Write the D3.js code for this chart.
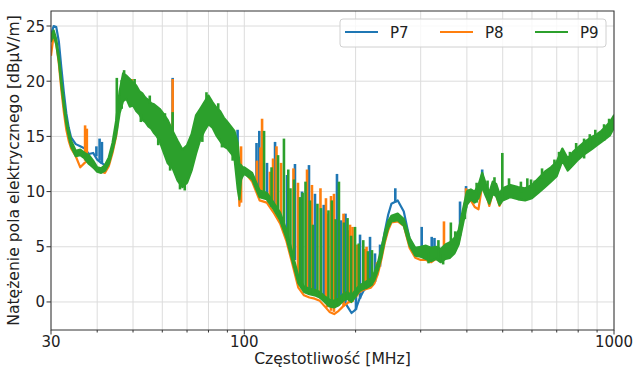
<!DOCTYPE html>
<html>
<head>
<meta charset="utf-8">
<script src="https://cdn.jsdelivr.net/npm/d3@7"></script>
<style>
  body { margin: 0; background: #fff; }
  text { font-family: "DejaVu Sans", sans-serif; fill: #222; }
</style>
</head>
<body>
<svg id="chart" width="636" height="368"></svg>
<script>
// Frequency grid [MHz] shared by all series
const freq = [
  30, 30.5, 31, 31.5, 32, 32.5, 33, 33.5, 34, 35, 36, 37, 38, 39, 40, 41, 42, 43, 44, 45,
  46, 47, 48, 49, 50, 51, 52, 53, 54, 55, 56, 57, 58, 59, 60,
  62, 64, 66, 68, 70, 72, 74, 76, 78, 80, 82, 84, 86, 88, 90, 92, 94,
  96, 97, 98, 99, 100,
  105, 110, 115, 120, 125, 130, 135, 140, 145, 150, 155, 160, 165, 170, 175, 180, 185, 190, 195, 200,
  205, 210, 215, 220, 225, 230, 235, 240, 245, 250, 260, 270, 280, 290, 300,
  310, 320, 330, 340, 350, 360, 370, 380, 390, 400, 410, 420, 430, 440, 450, 460, 470, 480, 490, 500,
  525, 550, 575, 600, 625, 650, 675, 700, 725, 750, 775, 800, 825, 850, 875, 900, 925, 950, 975, 1000
];

// P7 [dBµV/m]
const p7 = [
  24.2, 25.0, 24.9, 23.6, 21.2, 19.0, 17.1, 15.8, 14.9, 14.3, 14.1, 13.9, 13.4, 13.5, 12.9, 12.6, 12.4, 12.9, 14.0, 15.6,
  18.0, 19.4, 19.5, 19.0, 18.8, 18.4, 18.0, 17.6, 17.4, 17.1, 16.9, 16.5, 16.2, 15.9, 15.5,
  14.7, 14.0, 13.1, 12.2, 12.6, 13.8, 15.4, 16.1, 16.8, 17.4, 17.0, 16.4, 16.0, 15.4, 15.1, 14.7, 14.3,
  13.0, 11.0, 11.8, 11.9, 12.0,
  11.4, 9.8, 9.6, 8.7, 7.7, 6.1, 4.0, 1.9, 1.1, 0.9, 0.8, 0.6, 0.3, -0.2, -0.3, -0.1, 0.3, -0.4, -1.0, -0.7,
  0.3, 1.0, 1.4, 1.6, 2.1, 3.2, 4.8, 6.4, 7.9, 8.9, 9.2, 8.2, 5.7, 4.7, 4.8,
  4.8, 4.5, 4.6, 4.4, 4.6, 4.8, 5.3, 6.0, 7.9, 9.6, 9.8, 9.6, 10.2, 11.6, 10.3, 9.5, 10.4, 10.2, 9.3, 9.8,
  10.1, 9.9, 9.8, 10.0, 10.6, 11.1, 11.6, 12.1, 13.3, 12.5, 13.0, 13.4, 13.9, 14.1, 14.4, 14.7, 15.0, 15.3, 15.7, 16.3
];

// P8 [dBµV/m]
const p8 = [
  22.3, 24.2, 23.4, 21.6, 19.2, 17.2, 15.6, 14.6, 13.9, 13.2, 12.2, 12.6, 12.9, 12.2, 12.0, 11.8, 11.7, 12.3, 13.5, 15.0,
  17.8, 19.3, 19.4, 19.2, 18.7, 18.3, 17.9, 17.5, 17.3, 17.0, 16.8, 16.4, 16.1, 15.8, 15.4,
  14.6, 13.9, 13.0, 12.1, 12.5, 13.7, 15.3, 16.0, 16.7, 17.3, 16.9, 16.3, 15.9, 15.3, 15.0, 14.6, 14.2,
  12.5, 8.7, 11.2, 11.6, 11.8,
  10.9, 9.2, 9.0, 8.1, 7.1, 5.5, 3.4, 1.3, 0.6, 0.4, 0.3, 0.1, -0.4, -0.9, -1.1, -0.8, -0.4, -0.1, 0.1, 0.5,
  0.9, 1.1, 1.2, 1.3, 1.7, 2.6, 3.9, 5.4, 6.5, 7.2, 7.3, 6.9, 4.9, 4.0, 3.8,
  3.8, 3.6, 3.9, 3.7, 4.2, 4.4, 4.7, 5.4, 7.3, 9.0, 9.2, 8.6, 8.4, 10.6, 9.9, 8.7, 9.9, 9.7, 8.7, 9.4,
  9.6, 9.4, 9.3, 9.5, 10.1, 10.6, 11.1, 11.6, 12.9, 12.1, 12.6, 13.1, 13.5, 13.8, 14.1, 14.4, 14.7, 15.0, 15.4, 16.0
];

// P9: lower and upper edge of the noisy trace [dBµV/m]
const p9Lo = [
  23.6, 24.2, 23.3, 21.8, 19.6, 17.7, 16.1, 15.0, 14.1, 13.2, 13.3, 13.0, 12.5, 12.2, 11.8, 11.7, 11.9, 12.5, 13.7, 15.1,
  17.1, 18.2, 18.4, 17.7, 17.8, 17.3, 17.0, 16.5, 16.3, 15.9, 15.7, 15.3, 15.0, 14.6, 13.9,
  12.6, 12.1, 11.0, 10.4, 10.8, 11.9, 13.4, 14.7, 15.5, 16.1, 15.8, 15.1, 14.6, 14.1, 13.9, 13.5, 13.1,
  10.2, 9.3, 11.1, 11.4, 11.6,
  11.1, 9.5, 9.3, 8.4, 7.4, 5.8, 3.7, 1.7, 0.9, 0.7, 0.6, 0.4, 0.0, -0.4, -0.5, -0.3, 0.1, 0.3, 0.0, 0.5,
  1.0, 1.2, 1.3, 1.5, 2.0, 2.9, 4.1, 5.6, 6.7, 7.3, 7.4, 6.9, 5.1, 4.2, 4.1,
  3.9, 3.7, 3.9, 3.6, 3.9, 4.0, 4.4, 5.2, 7.0, 8.8, 9.3, 9.0, 9.4, 10.4, 9.6, 8.9, 9.8, 9.6, 8.8, 9.2,
  9.5, 9.3, 9.2, 9.4, 9.9, 10.4, 10.9, 11.4, 12.8, 11.9, 12.4, 12.9, 13.3, 13.6, 13.9, 14.2, 14.5, 14.8, 15.1, 15.8
];
const p9Hi = [
  24.1, 24.6, 23.8, 22.3, 20.1, 18.2, 16.6, 15.5, 14.6, 13.7, 13.8, 13.5, 13.3, 12.8, 12.2, 12.1, 12.4, 13.1, 14.4, 16.4,
  19.1, 20.7, 20.5, 20.2, 19.9, 19.6, 19.1, 18.9, 18.5, 18.3, 18.0, 17.9, 17.7, 17.5, 17.2,
  16.5, 15.5, 14.6, 13.8, 14.2, 15.2, 16.9, 17.5, 18.1, 18.7, 18.1, 17.6, 17.3, 16.7, 16.3, 15.9, 15.5,
  14.4, 12.5, 12.4, 12.2, 12.2,
  11.7, 10.1, 9.9, 9.0, 8.1, 6.5, 4.4, 2.3, 1.4, 1.2, 1.1, 0.9, 0.5, 0.2, 0.1, 0.3, 0.7, 0.9, 0.6, 1.1,
  1.5, 1.7, 1.9, 2.1, 2.7, 3.6, 4.9, 6.3, 7.3, 7.8, 8.0, 7.5, 5.8, 4.9, 5.0,
  5.1, 4.9, 5.0, 4.8, 5.2, 5.4, 5.8, 6.5, 8.3, 10.0, 10.2, 10.0, 10.6, 11.7, 10.7, 9.9, 10.9, 10.7, 9.8, 10.3,
  10.6, 10.4, 10.3, 10.6, 11.2, 11.8, 12.2, 12.7, 13.9, 13.0, 13.6, 14.0, 14.4, 14.7, 15.0, 15.2, 15.5, 15.9, 16.3, 16.9
];

// Narrow peaks: [frequency MHz, bottom, top]
const p7Peaks = [
  [39.8, 13.2, 14.1], [40.6, 12.8, 14.8], [41.2, 12.5, 14.5], [53.9, 17.5, 18.6], [64.0, 15.0, 20.3],
  [95.9, 12.0, 15.6], [107.9, 10.4, 14.4], [109.8, 9.6, 15.5], [115.2, 9.3, 12.6], [121.1, 8.5, 14.5],
  [130.5, 6.0, 11.5], [137.1, 3.8, 12.5], [143.2, 1.2, 10.0], [149.6, 1.0, 12.4], [155.3, 0.7, 9.8],
  [164.0, 0.5, 8.8], [178.1, -0.4, 11.6], [182.7, -0.1, 7.4], [187.8, 0.0, 8.0], [200.5, -0.7, 5.0],
  [205.6, 0.3, 6.1], [218.8, 1.3, 5.9], [225.7, 1.8, 4.4], [232.9, 3.2, 5.2], [256.1, 9.0, 10.3],
  [301.9, 4.6, 6.8], [321.3, 4.4, 5.9], [326.9, 4.4, 5.8], [383.3, 6.0, 9.1], [397.9, 8.5, 10.5],
  [403.6, 9.2, 10.2], [440, 11.0, 12.0]
];
const p8Peaks = [
  [37.1, 12.8, 16.0], [37.5, 12.8, 15.7], [49.7, 19.0, 20.2], [64.0, 15.0, 20.2], [98.0, 9.0, 14.1],
  [108.2, 10.2, 12.8], [110.6, 9.6, 14.0], [111.7, 9.5, 16.6], [117.3, 9.2, 11.8], [119.6, 8.6, 13.0],
  [122.2, 8.3, 14.1], [125.7, 7.4, 12.6], [135.8, 4.2, 12.1], [139.7, 1.8, 10.8], [147.8, 1.0, 12.0],
  [152.4, 0.8, 10.6], [160.7, 0.3, 10.3], [166.3, -0.2, 9.4], [167.4, -0.5, 8.0], [171.6, -0.8, 9.6],
  [174.8, -0.9, 9.8], [185.5, -0.4, 8.0], [192.0, -0.1, 6.5], [193.2, -0.1, 7.0], [196.2, 0.0, 6.8],
  [201.8, 0.5, 5.2], [212.1, 1.1, 4.8], [214.1, 1.2, 5.0], [228.5, 2.4, 3.6], [346.8, 4.0, 7.3],
  [397.9, 8.8, 10.3]
];
const p9Peaks = [
  [45.2, 15.5, 20.3], [46.6, 17.5, 20.1], [47.3, 20.2, 21.0], [50.5, 19.6, 20.2], [52.5, 16.3, 17.0],
  [55.5, 18.0, 18.7], [58.5, 14.2, 15.0], [61, 16.4, 17.1], [63, 11.9, 12.6], [64.0, 15.0, 17.2],
  [67, 10.2, 11.0], [69, 10.1, 10.9], [77, 14.5, 15.3], [79, 18.3, 19.0], [85, 17.4, 18.0],
  [87, 14.0, 14.6], [93, 12.8, 13.4],
  [113.1, 9.6, 15.5], [118.5, 8.6, 12.2], [123.4, 8.0, 13.3], [128.0, 7.0, 14.8], [131.5, 5.5, 12.0],
  [133.3, 4.6, 10.3], [136.3, 4.0, 11.1], [141.5, 1.8, 9.5], [143.8, 1.2, 9.9], [146.4, 1.1, 10.9],
  [150.5, 0.8, 9.2], [153.4, 0.8, 7.0], [157.7, 0.7, 8.9], [161.2, 0.6, 8.5], [168.9, -0.4, 8.3],
  [172.5, -0.5, 9.2], [176.5, -0.4, 7.5], [180.3, -0.3, 10.9], [186, 0.1, 7.2], [190.2, 0.2, 7.6],
  [194.5, 0.2, 6.0], [199.3, 0.4, 6.8], [204, 0.9, 5.3], [209.8, 1.1, 5.6], [216, 1.3, 4.6],
  [221.5, 1.5, 4.7],
  [315, 3.5, 4.5], [335, 3.9, 5.6], [345, 3.4, 4.3], [362, 5.2, 7.2], [372, 4.6, 6.4], [395, 7.5, 9.0],
  [425, 9.0, 10.8], [455, 9.5, 11.0], [475, 9.8, 11.3], [498.8, 9.5, 13.5], [520, 10.3, 11.2],
  [560, 9.9, 10.9], [582.9, 10.3, 11.2], [596.5, 10.4, 11.1], [610, 9.8, 11.0], [638.8, 11.2, 12.1],
  [690, 11.3, 12.9], [710, 12.5, 13.6], [760, 12.2, 13.6], [790, 13.5, 14.4], [830, 13.0, 14.8],
  [860, 13.8, 15.2], [890, 14.8, 15.6], [940, 14.6, 16.1], [970, 15.5, 16.6]
];

const seriesNames = ["P7", "P8", "P9"];
const seriesColors = ["#1f77b4", "#ff7f0e", "#2ca02c"];
const yTicks = [0, 5, 10, 15, 20, 25];
const xTickLabels = [30, 100, 1000];

const svg = d3.select("#chart");
const plot = { left: 51, top: 11, right: 614, bottom: 330 };

const x = d3.scaleLog().domain([30, 1000]).range([plot.left, plot.right]);
const y = d3.scaleLinear().domain([-2.54, 26.36]).range([plot.bottom, plot.top]);

svg.append("rect").attr("width", 636).attr("height", 368).attr("fill", "#fff");

// grid
const grid = svg.append("g").attr("stroke", "#dcdcdc").attr("stroke-width", 1);
grid.selectAll("line.gx").data(x.ticks()).join("line")
  .attr("x1", d => x(d)).attr("x2", d => x(d))
  .attr("y1", plot.top).attr("y2", plot.bottom);
grid.selectAll("line.gy").data(yTicks).join("line")
  .attr("x1", plot.left).attr("x2", plot.right)
  .attr("y1", d => y(d)).attr("y2", d => y(d));

svg.append("clipPath").attr("id", "clip")
  .append("rect").attr("x", plot.left).attr("y", plot.top)
  .attr("width", plot.right - plot.left).attr("height", plot.bottom - plot.top);

const data = svg.append("g").attr("clip-path", "url(#clip)");

const line = d3.line().x((d, i) => x(freq[i])).y(d => y(d));
const area = d3.area()
  .x((d, i) => x(freq[i]))
  .y0((d, i) => y(p9Lo[i]))
  .y1((d, i) => y(p9Hi[i]));

function drawPeaks(peaks, color) {
  data.append("g").selectAll("line").data(peaks).join("line")
    .attr("x1", d => x(d[0])).attr("x2", d => x(d[0]))
    .attr("y1", d => y(d[1])).attr("y2", d => y(d[2]))
    .attr("stroke", color).attr("stroke-width", 2.6);
}

// P7
data.append("path").datum(p7).attr("d", line)
  .attr("fill", "none").attr("stroke", seriesColors[0])
  .attr("stroke-width", 2.2).attr("stroke-linejoin", "round");
drawPeaks(p7Peaks, seriesColors[0]);

// P8
data.append("path").datum(p8).attr("d", line)
  .attr("fill", "none").attr("stroke", seriesColors[1])
  .attr("stroke-width", 2.2).attr("stroke-linejoin", "round");
drawPeaks(p8Peaks, seriesColors[1]);

// P9
data.append("path").datum(p9Lo).attr("d", area)
  .attr("fill", seriesColors[2]).attr("stroke", seriesColors[2])
  .attr("stroke-width", 2.2).attr("stroke-linejoin", "round");
drawPeaks(p9Peaks, seriesColors[2]);

// frame
svg.append("rect")
  .attr("x", plot.left).attr("y", plot.top)
  .attr("width", plot.right - plot.left).attr("height", plot.bottom - plot.top)
  .attr("fill", "none").attr("stroke", "#333").attr("stroke-width", 1);

// ticks
const ticks = svg.append("g").attr("stroke", "#333").attr("stroke-width", 1);
ticks.selectAll("line.tx").data(x.ticks()).join("line")
  .attr("x1", d => x(d)).attr("x2", d => x(d))
  .attr("y1", plot.bottom)
  .attr("y2", d => plot.bottom + (xTickLabels.includes(d) ? 4.5 : 2.5));
ticks.selectAll("line.ty").data(yTicks).join("line")
  .attr("x1", plot.left - 4.5).attr("x2", plot.left)
  .attr("y1", d => y(d)).attr("y2", d => y(d));

svg.append("g").selectAll("text").data(xTickLabels).join("text")
  .attr("x", d => x(d)).attr("y", 347)
  .attr("text-anchor", "middle").attr("font-size", 15)
  .text(d => d);

svg.append("g").selectAll("text").data(yTicks).join("text")
  .attr("x", plot.left - 6).attr("y", d => y(d) + 5.5)
  .attr("text-anchor", "end").attr("font-size", 15)
  .text(d => d);

svg.append("text")
  .attr("x", (plot.left + plot.right) / 2).attr("y", 364)
  .attr("text-anchor", "middle").attr("font-size", 15.6)
  .text("Częstotliwość [MHz]");

svg.append("text")
  .attr("transform", `translate(19,${(plot.top + plot.bottom) / 2}) rotate(-90)`)
  .attr("text-anchor", "middle").attr("font-size", 15.6)
  .text("Natężenie pola elektrycznego [dBμV/m]");

// legend
const legend = svg.append("g");
legend.append("rect")
  .attr("x", 340).attr("y", 19).attr("width", 266).attr("height", 28).attr("rx", 3)
  .attr("fill", "#fff").attr("fill-opacity", 0.8)
  .attr("stroke", "#d0d0d0").attr("stroke-width", 1);
seriesNames.forEach((name, i) => {
  const x0 = 345 + i * 95;
  legend.append("line")
    .attr("x1", x0).attr("x2", x0 + 33).attr("y1", 32).attr("y2", 32)
    .attr("stroke", seriesColors[i]).attr("stroke-width", 2.2);
  legend.append("text")
    .attr("x", x0 + 45).attr("y", 37.5).attr("font-size", 15)
    .text(name);
});
</script>
</body>
</html>
